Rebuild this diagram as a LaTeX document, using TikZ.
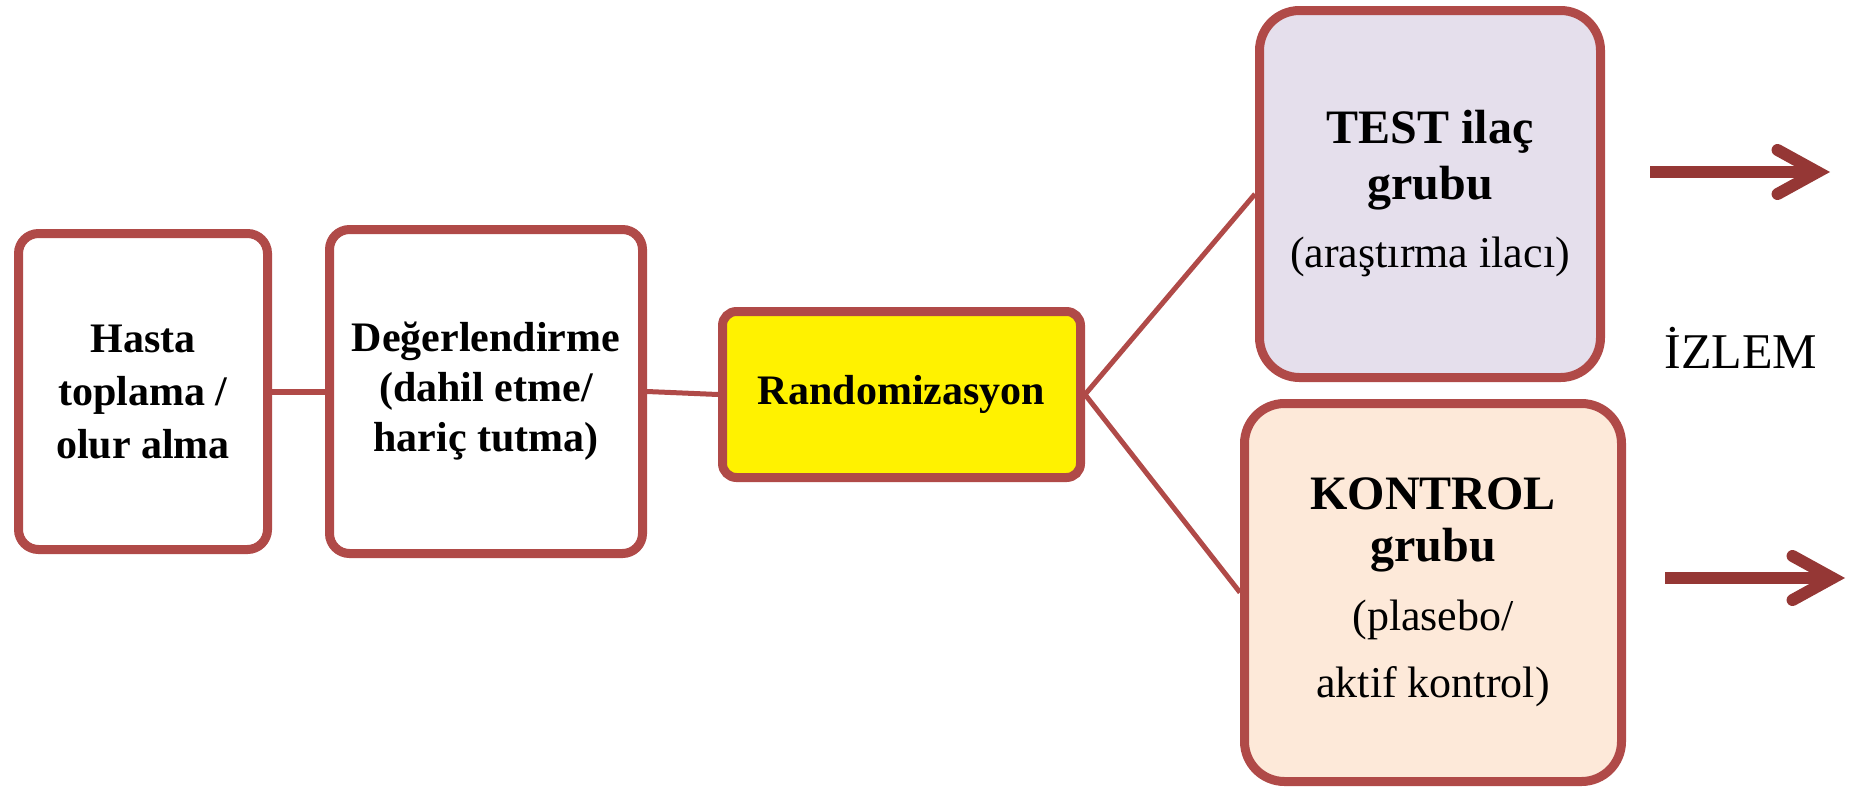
\documentclass[tikz,border=0pt]{standalone}
\usepackage{fontspec}
\setmainfont{Liberation Serif}
\usetikzlibrary{arrows.meta}
\definecolor{bord}{RGB}{176,74,72}
\definecolor{arr}{RGB}{149,55,53}
\definecolor{testfill}{RGB}{229,223,236}
\definecolor{konfill}{RGB}{253,233,217}
\tikzset{
  stepbox/.style={draw=bord, line width=4.5pt, rectangle, rounded corners=10pt, fill=white, align=center, inner sep=4pt},
  link/.style={draw=bord, line width=2.5pt},
  bigarrow/.style={draw=arr, line width=6pt, -{Straight Barb[length=20pt,width=22pt,line cap=round]}},
}
\begin{document}
\begin{tikzpicture}[x=0.5pt,y=-0.5pt]
\path[use as bounding box] (0,0) rectangle (1861,793);

\node[stepbox, minimum width=124.5pt, minimum height=158pt, font=\fontsize{21}{26.5}\selectfont\bfseries] (hasta) at (143,391.5) {Hasta\\toplama /\\olur alma};
\node[stepbox, minimum width=156.5pt, minimum height=162pt, font=\fontsize{21}{25}\selectfont\bfseries] (deger) at (486,391.5) {Değerlendirme\\(dahil etme/\\hariç tutma)};
\node[stepbox, rounded corners=7pt, fill=yellow, minimum width=179pt, minimum height=83pt, font=\fontsize{21}{25}\selectfont\bfseries] (rand) at (901.5,394.5) {Randomizasyon};
\node[stepbox, rounded corners=20pt, fill=testfill, minimum width=170.5pt, minimum height=183.5pt, font=\fontsize{24}{28}\selectfont] (test) at (1430,194) {\textbf{TEST ilaç}\\\textbf{grubu}\\[6pt]{\fontsize{22}{28}\selectfont(araştırma ilacı)}};
\node[stepbox, rounded corners=20pt, fill=konfill, minimum width=188.5pt, minimum height=189pt, font=\fontsize{24}{26}\selectfont] (kontrol) at (1433,592.5) {\textbf{KONTROL}\\\textbf{grubu}\\[8.5pt]{\fontsize{22}{26}\selectfont(plasebo/}\\[7.5pt]{\fontsize{22}{26}\selectfont aktif kontrol)}};

\node[font=\fontsize{25}{30}\selectfont] (izlem) at (1741,348) {İZLEM};

\begin{scope}[on background layer/.style={}]
\end{scope}
\draw[link, line width=3pt] (hasta.east) -- (deger.west);
\draw[link] (deger.east) -- (rand.west);
\draw[link] (rand.east) -- (test.west);
\draw[link] (rand.east) -- (kontrol.west);

\coordinate (a1s) at (1650,172);
\coordinate (a1e) at (1830,172);
\coordinate (a2s) at (1665,578);
\coordinate (a2e) at (1845,578);
\draw[bigarrow] (a1s) -- (a1e);
\draw[bigarrow] (a2s) -- (a2e);
\end{tikzpicture}
\end{document}
